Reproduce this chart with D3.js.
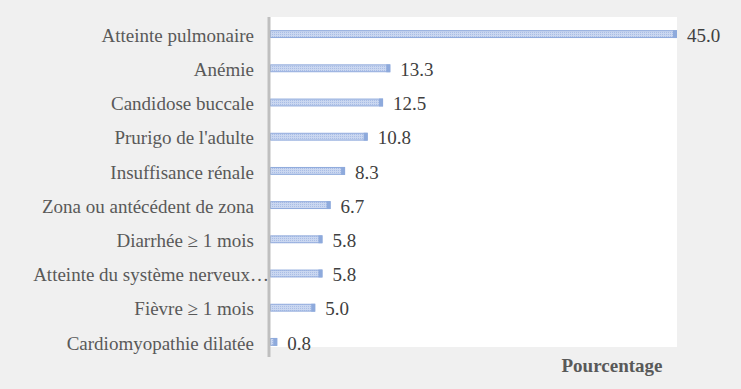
<!DOCTYPE html>
<html>
<head>
<meta charset="utf-8">
<script src="https://cdn.jsdelivr.net/npm/d3@7/dist/d3.min.js"></script>
<style>
  html, body { margin: 0; padding: 0; background: #f0f0f0; }
  svg { display: block; }
  text { font-family: "Liberation Serif", "DejaVu Serif", serif; }
</style>
</head>
<body>
<div id="chart"></div>
<script>
const categories = [
    "Atteinte pulmonaire",
    "Anémie",
    "Candidose buccale",
    "Prurigo de l'adulte",
    "Insuffisance rénale",
    "Zona ou antécédent de zona",
    "Diarrhée ≥ 1 mois",
    "Atteinte du système nerveux…",
    "Fièvre ≥ 1 mois",
    "Cardiomyopathie dilatée"
];
const values = [45.0, 13.3, 12.5, 10.8, 8.3, 6.7, 5.8, 5.8, 5.0, 0.8];
const axisTitle = "Pourcentage";

const width = 741, height = 389;
const margin = { top: 17, right: 64, bottom: 30, left: 270 };
const serif = "'Liberation Serif', 'DejaVu Serif', serif";
const fontSize = 19;

const svg = d3.select("#chart").append("svg")
    .attr("width", width)
    .attr("height", height);

svg.append("rect")
    .attr("width", width).attr("height", height)
    .attr("fill", "#f0f0f0");

// motif pointillé des barres
const defs = svg.append("defs");
const pat = defs.append("pattern")
    .attr("id", "dots")
    .attr("width", 2).attr("height", 2)
    .attr("patternUnits", "userSpaceOnUse");
pat.append("rect").attr("width", 2).attr("height", 2).attr("fill", "#cad7f0");
pat.append("rect").attr("width", 1).attr("height", 1).attr("fill", "#a9bde6");

const x = d3.scaleLinear()
    .domain([0, 45])
    .range([margin.left, width - margin.right]);

const y = d3.scaleBand()
    .domain(categories)
    .range([margin.top, margin.top + 342])
    .paddingInner(0.77)
    .paddingOuter(0.385);

// zone de tracé blanche
svg.append("rect")
    .attr("x", margin.left)
    .attr("y", margin.top)
    .attr("width", x(45) - margin.left)
    .attr("height", 347 - margin.top)
    .attr("fill", "#ffffff");

// BARRES
svg.selectAll("rect.bar")
    .data(values)
    .enter().append("rect")
    .attr("class", "bar")
    .attr("x", x(0) + 0.5)
    .attr("y", (d, i) => y(categories[i]) + 0.5)
    .attr("width", d => Math.max(0, x(d) - x(0) - 1))
    .attr("height", y.bandwidth() - 1)
    .attr("fill", "url(#dots)")
    .attr("stroke", "#8faadc")
    .attr("stroke-width", 1);

// bout plus foncé à droite des barres
svg.selectAll("rect.cap")
    .data(values)
    .enter().append("rect")
    .attr("class", "cap")
    .attr("x", d => x(d) - 4)
    .attr("y", (d, i) => y(categories[i]))
    .attr("width", 4)
    .attr("height", y.bandwidth())
    .attr("fill", "#8eaadc");

// ÉTIQUETTES DE VALEUR
svg.selectAll("text.val")
    .data(values)
    .enter().append("text")
    .attr("class", "val")
    .attr("x", d => x(d) + 10)
    .attr("y", (d, i) => y(categories[i]) + y.bandwidth() / 2)
    .attr("dy", "0.4em")
    .attr("font-family", serif)
    .attr("font-size", fontSize)
    .attr("fill", "#404040")
    .text(d => d.toFixed(1));

// AXE DES CATÉGORIES
const yAxis = d3.axisLeft(y).tickSize(0).tickPadding(15);
const gy = svg.append("g")
    .attr("transform", `translate(${margin.left - 1},0)`)
    .call(yAxis);
gy.attr("font-family", serif).attr("font-size", fontSize);
gy.select(".domain").remove();
gy.selectAll("text")
    .attr("dy", "0.4em")
    .attr("dx", d => d.endsWith("…") ? 15 : 0)  // libellé tronqué déborde sur l'axe
    .attr("font-family", serif)
    .attr("font-size", fontSize)
    .attr("fill", "#595959");

svg.append("line")
    .attr("x1", margin.left - 1).attr("x2", margin.left - 1)
    .attr("y1", margin.top).attr("y2", 357)
    .attr("stroke", "#bfbfbf")
    .attr("stroke-width", 3);

// TITRE DE L'AXE
svg.append("text")
    .attr("x", 612)
    .attr("y", 372)
    .attr("text-anchor", "middle")
    .attr("font-family", serif)
    .attr("font-size", fontSize)
    .attr("font-weight", "bold")
    .attr("fill", "#595959")
    .text(axisTitle);
</script>
</body>
</html>
